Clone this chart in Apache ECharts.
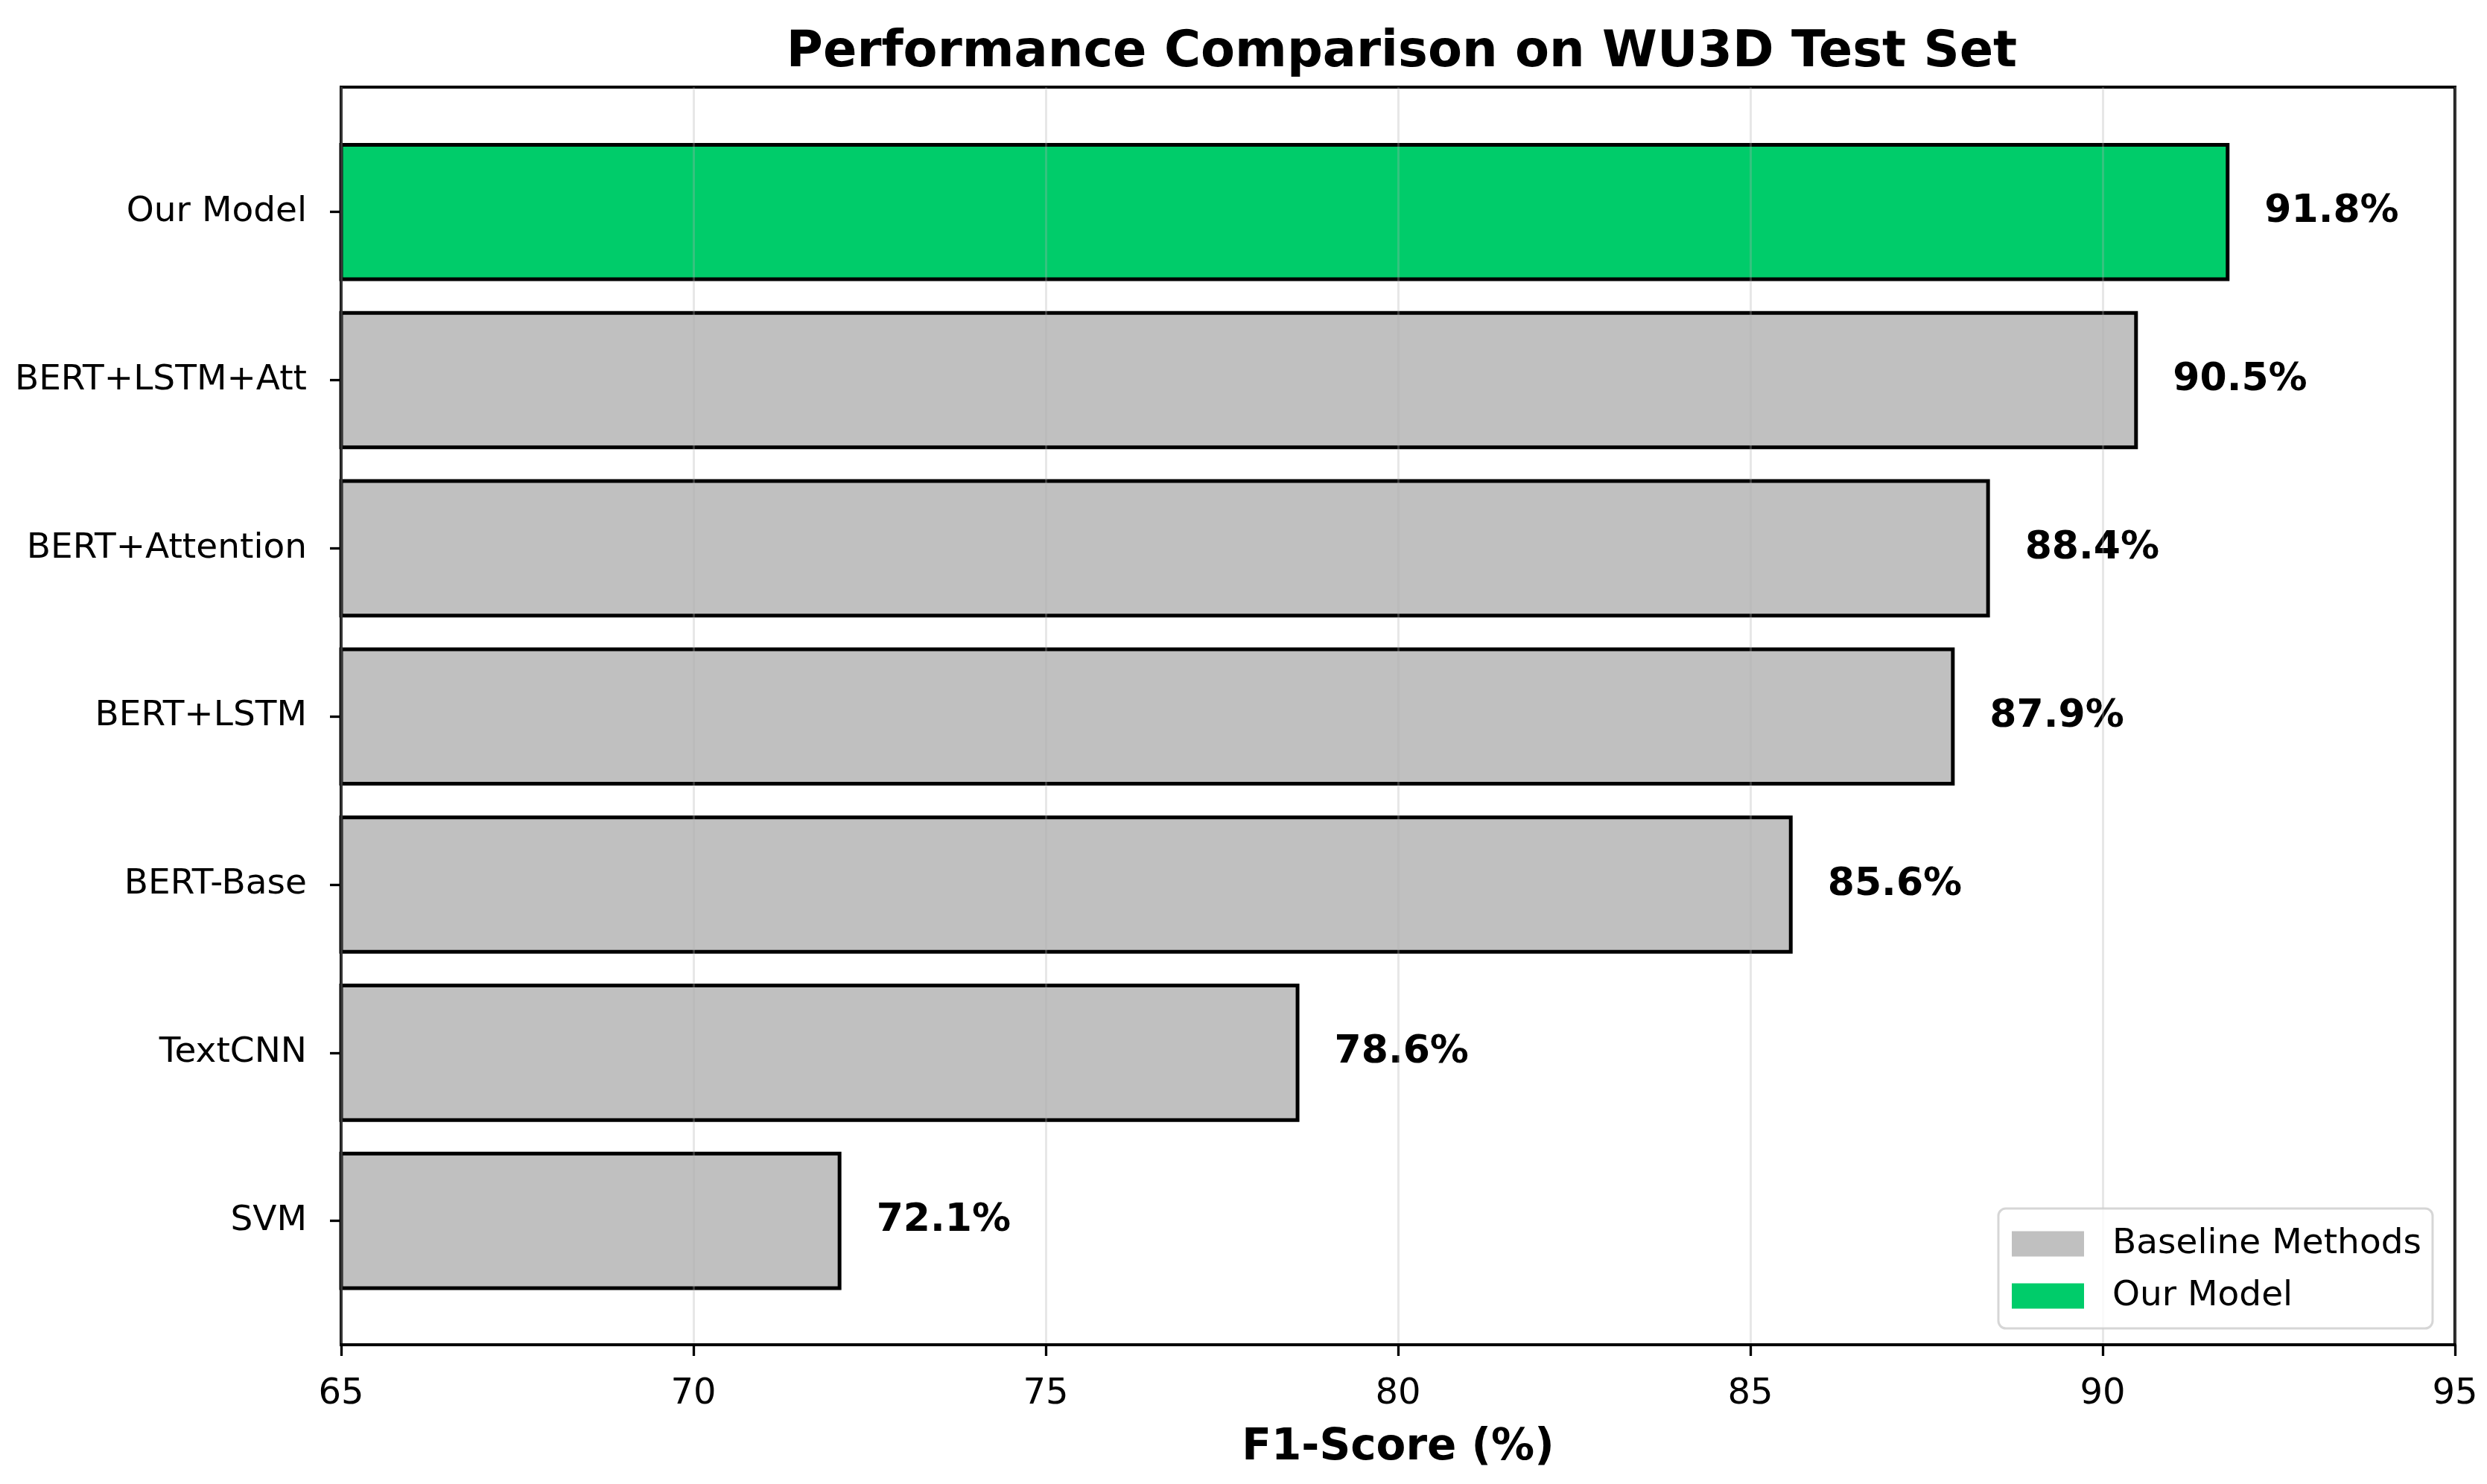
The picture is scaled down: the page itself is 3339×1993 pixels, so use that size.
<!DOCTYPE html>
<html>
<head>
<meta charset="utf-8">
<script src="https://cdn.jsdelivr.net/npm/echarts@6/dist/echarts.min.js"></script>
<style>
html,body{margin:0;padding:0;background:#fff;}
#chart{width:3339px;height:1993px;}
</style>
</head>
<body>
<div id="chart"></div>
<script>
// Categories bottom-to-top (as in the reference's horizontal bar chart)
const categories = ['SVM', 'TextCNN', 'BERT-Base', 'BERT+LSTM', 'BERT+Attention', 'BERT+LSTM+Att', 'Our Model'];
const f1Scores = [72.1, 78.6, 85.6, 87.9, 88.4, 90.5, 91.8];
const ourModelName = 'Our Model';
const xTicks = [65, 70, 75, 80, 85, 90, 95];
const legendNames = ['Baseline Methods', 'Our Model'];

const FONT = 'DejaVu Sans';
const baselineData = f1Scores.map((v, i) => categories[i] === ourModelName ? '-' : v);
const ourData = f1Scores.map((v, i) => categories[i] === ourModelName ? v : '-');

const labelOpt = {
  show: true,
  position: 'right',
  distance: 47,
  formatter: p => Number(p.value).toFixed(1) + '%',
  fontFamily: FONT,
  fontSize: 52,
  fontWeight: 'bold',
  color: '#000'
};

const chart = echarts.init(document.getElementById('chart'));
chart.setOption({
  backgroundColor: '#fff',
  animation: false,
  title: {
    text: 'Performance Comparison on WU3D Test Set',
    left: 1877,
    top: 33,
    textAlign: 'center',
    textStyle: { fontFamily: FONT, fontSize: 67, fontWeight: 'bold', color: '#000' }
  },
  legend: {
    data: legendNames,
    orient: 'vertical',
    left: 2683,
    top: 1623,
    itemWidth: 97,
    itemHeight: 34,
    itemGap: 23,
    padding: [24, 15, 20, 18],
    backgroundColor: 'rgba(255,255,255,0.8)',
    borderColor: 'rgba(204,204,204,0.8)',
    borderWidth: 3,
    borderRadius: 10,
    icon: 'rect',
    itemStyle: { borderWidth: 0 },
    textStyle: { fontFamily: FONT, fontSize: 47, color: '#000', padding: [0, 0, 0, 33] }
  },
  grid: [
    { left: 458, right: 43, top: 117, bottom: 187, outerBoundsMode: 'none', containLabel: false,
      show: true, borderColor: '#000', borderWidth: 4, backgroundColor: 'transparent' },
    { left: 458, right: 43, top: 171.8, bottom: 240.4, outerBoundsMode: 'none', containLabel: false }
  ],
  xAxis: [
    {
      type: 'value', gridIndex: 0, min: xTicks[0], max: xTicks[xTicks.length - 1], interval: 5,
      z: 3,
      name: 'F1-Score (%)', nameLocation: 'middle', nameGap: 110,
      nameTextStyle: { fontFamily: FONT, fontSize: 58, fontWeight: 'bold', color: '#000' },
      axisLine: { show: true, lineStyle: { color: '#000', width: 4 } },
      axisTick: { show: true, length: 15, lineStyle: { color: '#000', width: 3.3 } },
      axisLabel: { fontFamily: FONT, fontSize: 48, color: '#000', margin: 43 },
      splitLine: { show: true, lineStyle: { color: '#b0b0b0', width: 3, opacity: 0.3 } }
    },
    {
      type: 'value', gridIndex: 1, min: xTicks[0], max: xTicks[xTicks.length - 1], show: false,
      splitLine: { show: false }
    }
  ],
  yAxis: [
    { type: 'value', gridIndex: 0, show: false, min: 0, max: 1, splitLine: { show: false } },
    {
      type: 'category', gridIndex: 1, data: categories,
      axisLine: { show: false },
      axisTick: { show: true, alignWithLabel: true, length: 15, lineStyle: { color: '#000', width: 3.3 } },
      axisLabel: { fontFamily: FONT, fontSize: 47, color: '#000', margin: 46, padding: [10, 0, 0, 0] },
      splitLine: { show: false }
    }
  ],
  series: [
    {
      name: legendNames[0], type: 'bar', xAxisIndex: 1, yAxisIndex: 1,
      data: baselineData, barWidth: '82.2%', barGap: '-100%',
      itemStyle: { color: '#c0c0c0', borderColor: '#000', borderWidth: 5 },
      label: labelOpt
    },
    {
      name: legendNames[1], type: 'bar', xAxisIndex: 1, yAxisIndex: 1,
      data: ourData, barWidth: '82.2%', barGap: '-100%',
      itemStyle: { color: '#00cc6a', borderColor: '#000', borderWidth: 5 },
      label: labelOpt
    }
  ]
});
</script>
</body>
</html>
